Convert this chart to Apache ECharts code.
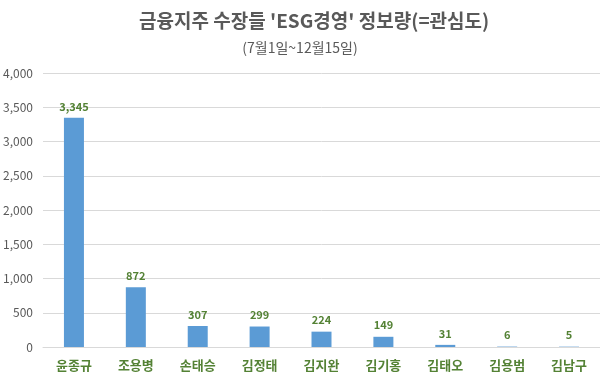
<!DOCTYPE html>
<html><head><meta charset="utf-8">
<script src="https://cdn.jsdelivr.net/npm/echarts@6/dist/echarts.min.js"></script>
<style>html,body{margin:0;padding:0;background:#fff}#c{width:600px;height:380px}</style>
</head><body><div id="c"></div>
<script>
const titleText = "금융지주 수장들 'ESG경영' 정보량(=관심도)";
const subtitleText = "(7월1일~12월15일)";
const categories = ["윤종규","조용병","손태승","김정태","김지완","김기홍","김태오","김용범","김남구"];
const values = [3345, 872, 307, 299, 224, 149, 31, 6, 5];
const yTicks = [0, 500, 1000, 1500, 2000, 2500, 3000, 3500, 4000];

const font = "'Noto Sans CJK KR', 'Noto Sans', sans-serif";
const chart = echarts.init(document.getElementById('c'), null, {renderer:'canvas'});
chart.setOption({
  animation:false,
  backgroundColor:'#fff',
  title:[
    {text:titleText, left:134, top:6, textStyle:{fontFamily:font, fontSize:19, fontWeight:'bold', color:'#595959'}},
    {text:subtitleText, left:'center', top:36, textStyle:{fontFamily:font, fontSize:14, fontWeight:'normal', color:'#595959'}}
  ],
  grid:{left:43, right:0, top:73, bottom:33},
  xAxis:{type:'category', data:categories,
    axisLine:{lineStyle:{color:'#d9d9d9'}}, axisTick:{show:false},
    axisLabel:{fontFamily:font, fontSize:13, fontWeight:'bold', color:'#548235', margin:12}},
  yAxis:{type:'value', min:yTicks[0], max:yTicks[yTicks.length-1], interval:500,
    axisLine:{show:false}, axisTick:{show:false},
    splitLine:{lineStyle:{color:'#d9d9d9'}},
    axisLabel:{fontFamily:font, fontSize:12, color:'#595959', margin:10,
      formatter:v=>v.toLocaleString('en-US')}},
  series:[{type:'bar', data:values, barWidth:20,
    itemStyle:{color:'#5B9BD5'},
    label:{show:true, position:'top', distance:6, fontFamily:font, fontSize:11, fontWeight:'bold', color:'#548235',
      formatter:p=>p.value.toLocaleString('en-US')}}]
});
</script></body></html>
